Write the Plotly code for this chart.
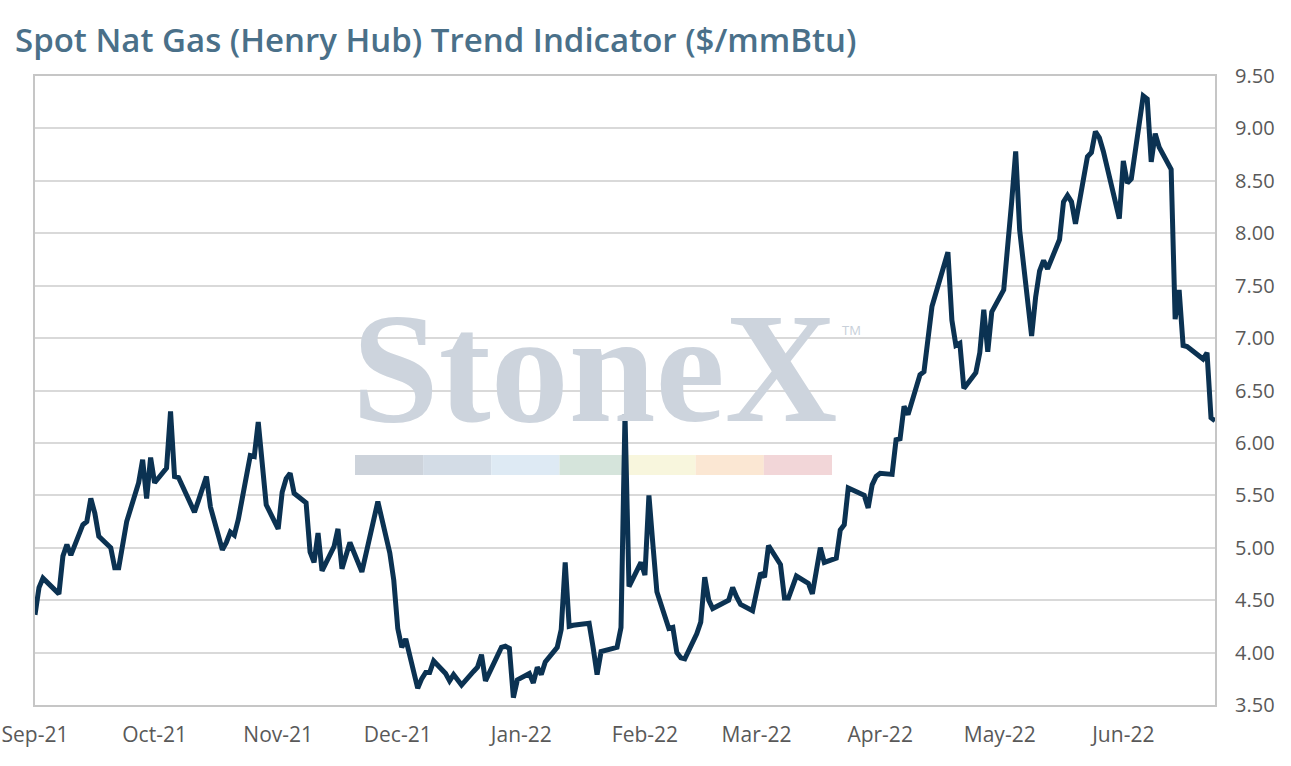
import plotly.graph_objects as go

# ---- data ----
dates = [
    "2021-09-01", "2021-09-02", "2021-09-03", "2021-09-07", "2021-09-08", "2021-09-09", "2021-09-10",
    "2021-09-13", "2021-09-14", "2021-09-15", "2021-09-16", "2021-09-17", "2021-09-20", "2021-09-21",
    "2021-09-22", "2021-09-23", "2021-09-24", "2021-09-27", "2021-09-28", "2021-09-29", "2021-09-30",
    "2021-10-01", "2021-10-04", "2021-10-05", "2021-10-06", "2021-10-07", "2021-10-08", "2021-10-11",
    "2021-10-12", "2021-10-13", "2021-10-14", "2021-10-15", "2021-10-18", "2021-10-19", "2021-10-20",
    "2021-10-21", "2021-10-22", "2021-10-25", "2021-10-26", "2021-10-27", "2021-10-28", "2021-10-29",
    "2021-11-01", "2021-11-02", "2021-11-03", "2021-11-04", "2021-11-05", "2021-11-08", "2021-11-09",
    "2021-11-10", "2021-11-11", "2021-11-12", "2021-11-15", "2021-11-16", "2021-11-17", "2021-11-18",
    "2021-11-19", "2021-11-22", "2021-11-23", "2021-11-24", "2021-11-26", "2021-11-29", "2021-11-30",
    "2021-12-01", "2021-12-02", "2021-12-03", "2021-12-06", "2021-12-07", "2021-12-08", "2021-12-09",
    "2021-12-10", "2021-12-13", "2021-12-14", "2021-12-15", "2021-12-16", "2021-12-17", "2021-12-20",
    "2021-12-21", "2021-12-22", "2021-12-23", "2021-12-27", "2021-12-28", "2021-12-29", "2021-12-30",
    "2021-12-31", "2022-01-03", "2022-01-04", "2022-01-05", "2022-01-06", "2022-01-07", "2022-01-10",
    "2022-01-11", "2022-01-12", "2022-01-13", "2022-01-14", "2022-01-18", "2022-01-19", "2022-01-20",
    "2022-01-21", "2022-01-24", "2022-01-25", "2022-01-26", "2022-01-27", "2022-01-28", "2022-01-31",
    "2022-02-01", "2022-02-02", "2022-02-03", "2022-02-04", "2022-02-07", "2022-02-08", "2022-02-09",
    "2022-02-10", "2022-02-11", "2022-02-14", "2022-02-15", "2022-02-16", "2022-02-17", "2022-02-18",
    "2022-02-22", "2022-02-23", "2022-02-24", "2022-02-25", "2022-02-28", "2022-03-01", "2022-03-02",
    "2022-03-03", "2022-03-04", "2022-03-07", "2022-03-08", "2022-03-09", "2022-03-10", "2022-03-11",
    "2022-03-14", "2022-03-15", "2022-03-16", "2022-03-17", "2022-03-18", "2022-03-21", "2022-03-22",
    "2022-03-23", "2022-03-24", "2022-03-25", "2022-03-28", "2022-03-29", "2022-03-30", "2022-03-31",
    "2022-04-01", "2022-04-04", "2022-04-05", "2022-04-06", "2022-04-07", "2022-04-08", "2022-04-11",
    "2022-04-12", "2022-04-13", "2022-04-14", "2022-04-18", "2022-04-19", "2022-04-20", "2022-04-21",
    "2022-04-22", "2022-04-25", "2022-04-26", "2022-04-27", "2022-04-28", "2022-04-29", "2022-05-02",
    "2022-05-03", "2022-05-04", "2022-05-05", "2022-05-06", "2022-05-09", "2022-05-10", "2022-05-11",
    "2022-05-12", "2022-05-13", "2022-05-16", "2022-05-17", "2022-05-18", "2022-05-19", "2022-05-20",
    "2022-05-23", "2022-05-24", "2022-05-25", "2022-05-26", "2022-05-27", "2022-05-31", "2022-06-01",
    "2022-06-02", "2022-06-03", "2022-06-06", "2022-06-07", "2022-06-08", "2022-06-09", "2022-06-10",
    "2022-06-13", "2022-06-14", "2022-06-15", "2022-06-16", "2022-06-17", "2022-06-21", "2022-06-22",
    "2022-06-23", "2022-06-24",
]

prices = [
    4.36, 4.62, 4.71, 4.56, 4.92, 5.03, 4.93,
    5.22, 5.25, 5.47, 5.33, 5.11, 5.00, 4.81,
    4.81, 5.05, 5.25, 5.62, 5.84, 5.47, 5.86,
    5.62, 5.76, 6.30, 5.68, 5.67, 5.58, 5.34,
    5.45, 5.57, 5.68, 5.39, 4.98, 5.05, 5.15,
    5.12, 5.27, 5.88, 5.87, 6.20, 5.80, 5.41,
    5.18, 5.53, 5.66, 5.71, 5.52, 5.43, 4.96,
    4.86, 5.14, 4.78, 5.01, 5.18, 4.80, 4.92,
    5.05, 4.77, 4.95, 5.08, 5.44, 4.95, 4.69,
    4.23, 4.05, 4.13, 3.66, 3.75, 3.81, 3.81,
    3.92, 3.80, 3.73, 3.79, 3.74, 3.69, 3.82,
    3.86, 3.98, 3.73, 4.05, 4.06, 4.04, 3.57,
    3.74, 3.80, 3.71, 3.86, 3.79, 3.91, 4.05,
    4.22, 4.86, 4.25, 4.26, 4.28, 4.05, 3.79,
    4.01, 4.04, 4.05, 4.24, 6.27, 4.63, 4.86,
    4.74, 5.50, 5.03, 4.58, 4.23, 4.24, 4.00,
    3.95, 3.94, 4.18, 4.29, 4.72, 4.50, 4.42,
    4.50, 4.62, 4.53, 4.46, 4.40, 4.60, 4.76,
    4.72, 5.02, 4.84, 4.52, 4.52, 4.62, 4.73,
    4.66, 4.56, 4.78, 5.00, 4.86, 4.90, 5.17,
    5.22, 5.57, 5.55, 5.50, 5.38, 5.60, 5.68,
    5.71, 5.70, 6.03, 6.04, 6.35, 6.27, 6.65,
    6.68, 7.00, 7.30, 7.82, 7.17, 6.93, 6.95,
    6.52, 6.67, 6.86, 7.27, 6.87, 7.25, 7.46,
    7.85, 8.30, 8.78, 8.03, 7.02, 7.39, 7.64,
    7.74, 7.66, 7.94, 8.30, 8.36, 8.30, 8.09,
    8.73, 8.77, 8.97, 8.91, 8.78, 8.14, 8.69,
    8.48, 8.52, 9.31, 9.28, 8.68, 8.95, 8.82,
    8.61, 7.18, 7.46, 6.93, 6.92, 6.80, 6.86,
    6.24, 6.21,
]

month_ticks = ["2021-09-01", "2021-10-01", "2021-11-01", "2021-12-01", "2022-01-01",
               "2022-02-01", "2022-03-01", "2022-04-01", "2022-05-01", "2022-06-01"]
month_labels = ["Sep-21", "Oct-21", "Nov-21", "Dec-21", "Jan-22",
                "Feb-22", "Mar-22", "Apr-22", "May-22", "Jun-22"]

y_ticks = [3.5, 4.0, 4.5, 5.0, 5.5, 6.0, 6.5, 7.0, 7.5, 8.0, 8.5, 9.0, 9.5]

title_text = "Spot Nat Gas (Henry Hub) Trend Indicator ($/mmBtu)"
watermark_text = "StoneX"

# ---- styling ----
band_colors = ["#cdd3db", "#d3dce6", "#deeaf4", "#d5e4db", "#f8f6dd", "#fbe7d3", "#f2d6d8"]
LINE = "#0b3252"
GRID = "#d9d9d9"
FRAME = "#c6c6c6"
TICK = "#595959"
FONT = "Open Sans"

fig = go.Figure()
fig.add_trace(go.Scatter(
    x=dates, y=prices, mode="lines",
    line=dict(color=LINE, width=5),
    hoverinfo="x+y", showlegend=False,
))

W, H = 1291, 766
L, R, T, B = 35, 76, 76, 61
pw = W - L - R
ph = H - T - B

def px_x(px):
    return (px - L) / pw

def px_y(py):
    return (H - B - py) / ph

# watermark colour band
band_x0, band_x1 = 355, 832
step = (band_x1 - band_x0) / len(band_colors)
shapes = []
for i, c in enumerate(band_colors):
    shapes.append(dict(
        type="rect", xref="paper", yref="paper", layer="below",
        x0=px_x(band_x0 + i * step), x1=px_x(band_x0 + (i + 1) * step),
        y0=px_y(475), y1=px_y(455),
        fillcolor=c, line=dict(width=0),
    ))

annotations = [
    dict(text=watermark_text, xref="paper", yref="paper",
         x=px_x(594), y=px_y(368), xanchor="center", yanchor="middle",
         showarrow=False,
         font=dict(family="Liberation Serif", size=156, color="#cdd4dd", weight="bold")),
    dict(text="TM", xref="paper", yref="paper",
         x=px_x(851), y=px_y(330), xanchor="center", yanchor="middle",
         showarrow=False,
         font=dict(family=FONT, size=13, color="#c8d0d9")),
]

fig.update_layout(
    width=W, height=H,
    margin=dict(l=L, r=R, t=T, b=B, autoexpand=False),
    paper_bgcolor="white", plot_bgcolor="white",
    font=dict(family=FONT, color=TICK),
    title=dict(
        text=title_text, x=15 / W, xanchor="left", xref="container",
        y=1 - 40 / H, yanchor="middle", yref="container",
        font=dict(family=FONT, size=33, color="#4a7089", weight=600),
    ),
    shapes=shapes,
    annotations=annotations,
    showlegend=False,
)

fig.update_xaxes(
    type="date", automargin=False,
    range=["2021-09-01", "2022-06-24"],
    tickvals=month_ticks, ticktext=month_labels,
    showgrid=False, zeroline=False,
    showline=True, linecolor=FRAME, linewidth=2, mirror=True,
    ticks="", ticklabelstandoff=10,
    tickfont=dict(family=FONT, size=21, color=TICK),
)
fig.update_yaxes(
    range=[3.5, 9.5], side="right", automargin=False,
    tickvals=y_ticks, tickformat=".2f",
    showgrid=True, gridcolor=GRID, gridwidth=2,
    zeroline=False,
    showline=True, linecolor=FRAME, linewidth=2, mirror=True,
    ticks="", ticklabelstandoff=14,
    tickfont=dict(family=FONT, size=20, color=TICK),
)

fig.write_html("out.html", config={"displayModeBar": False},
               post_script="document.body.style.margin='0';")
